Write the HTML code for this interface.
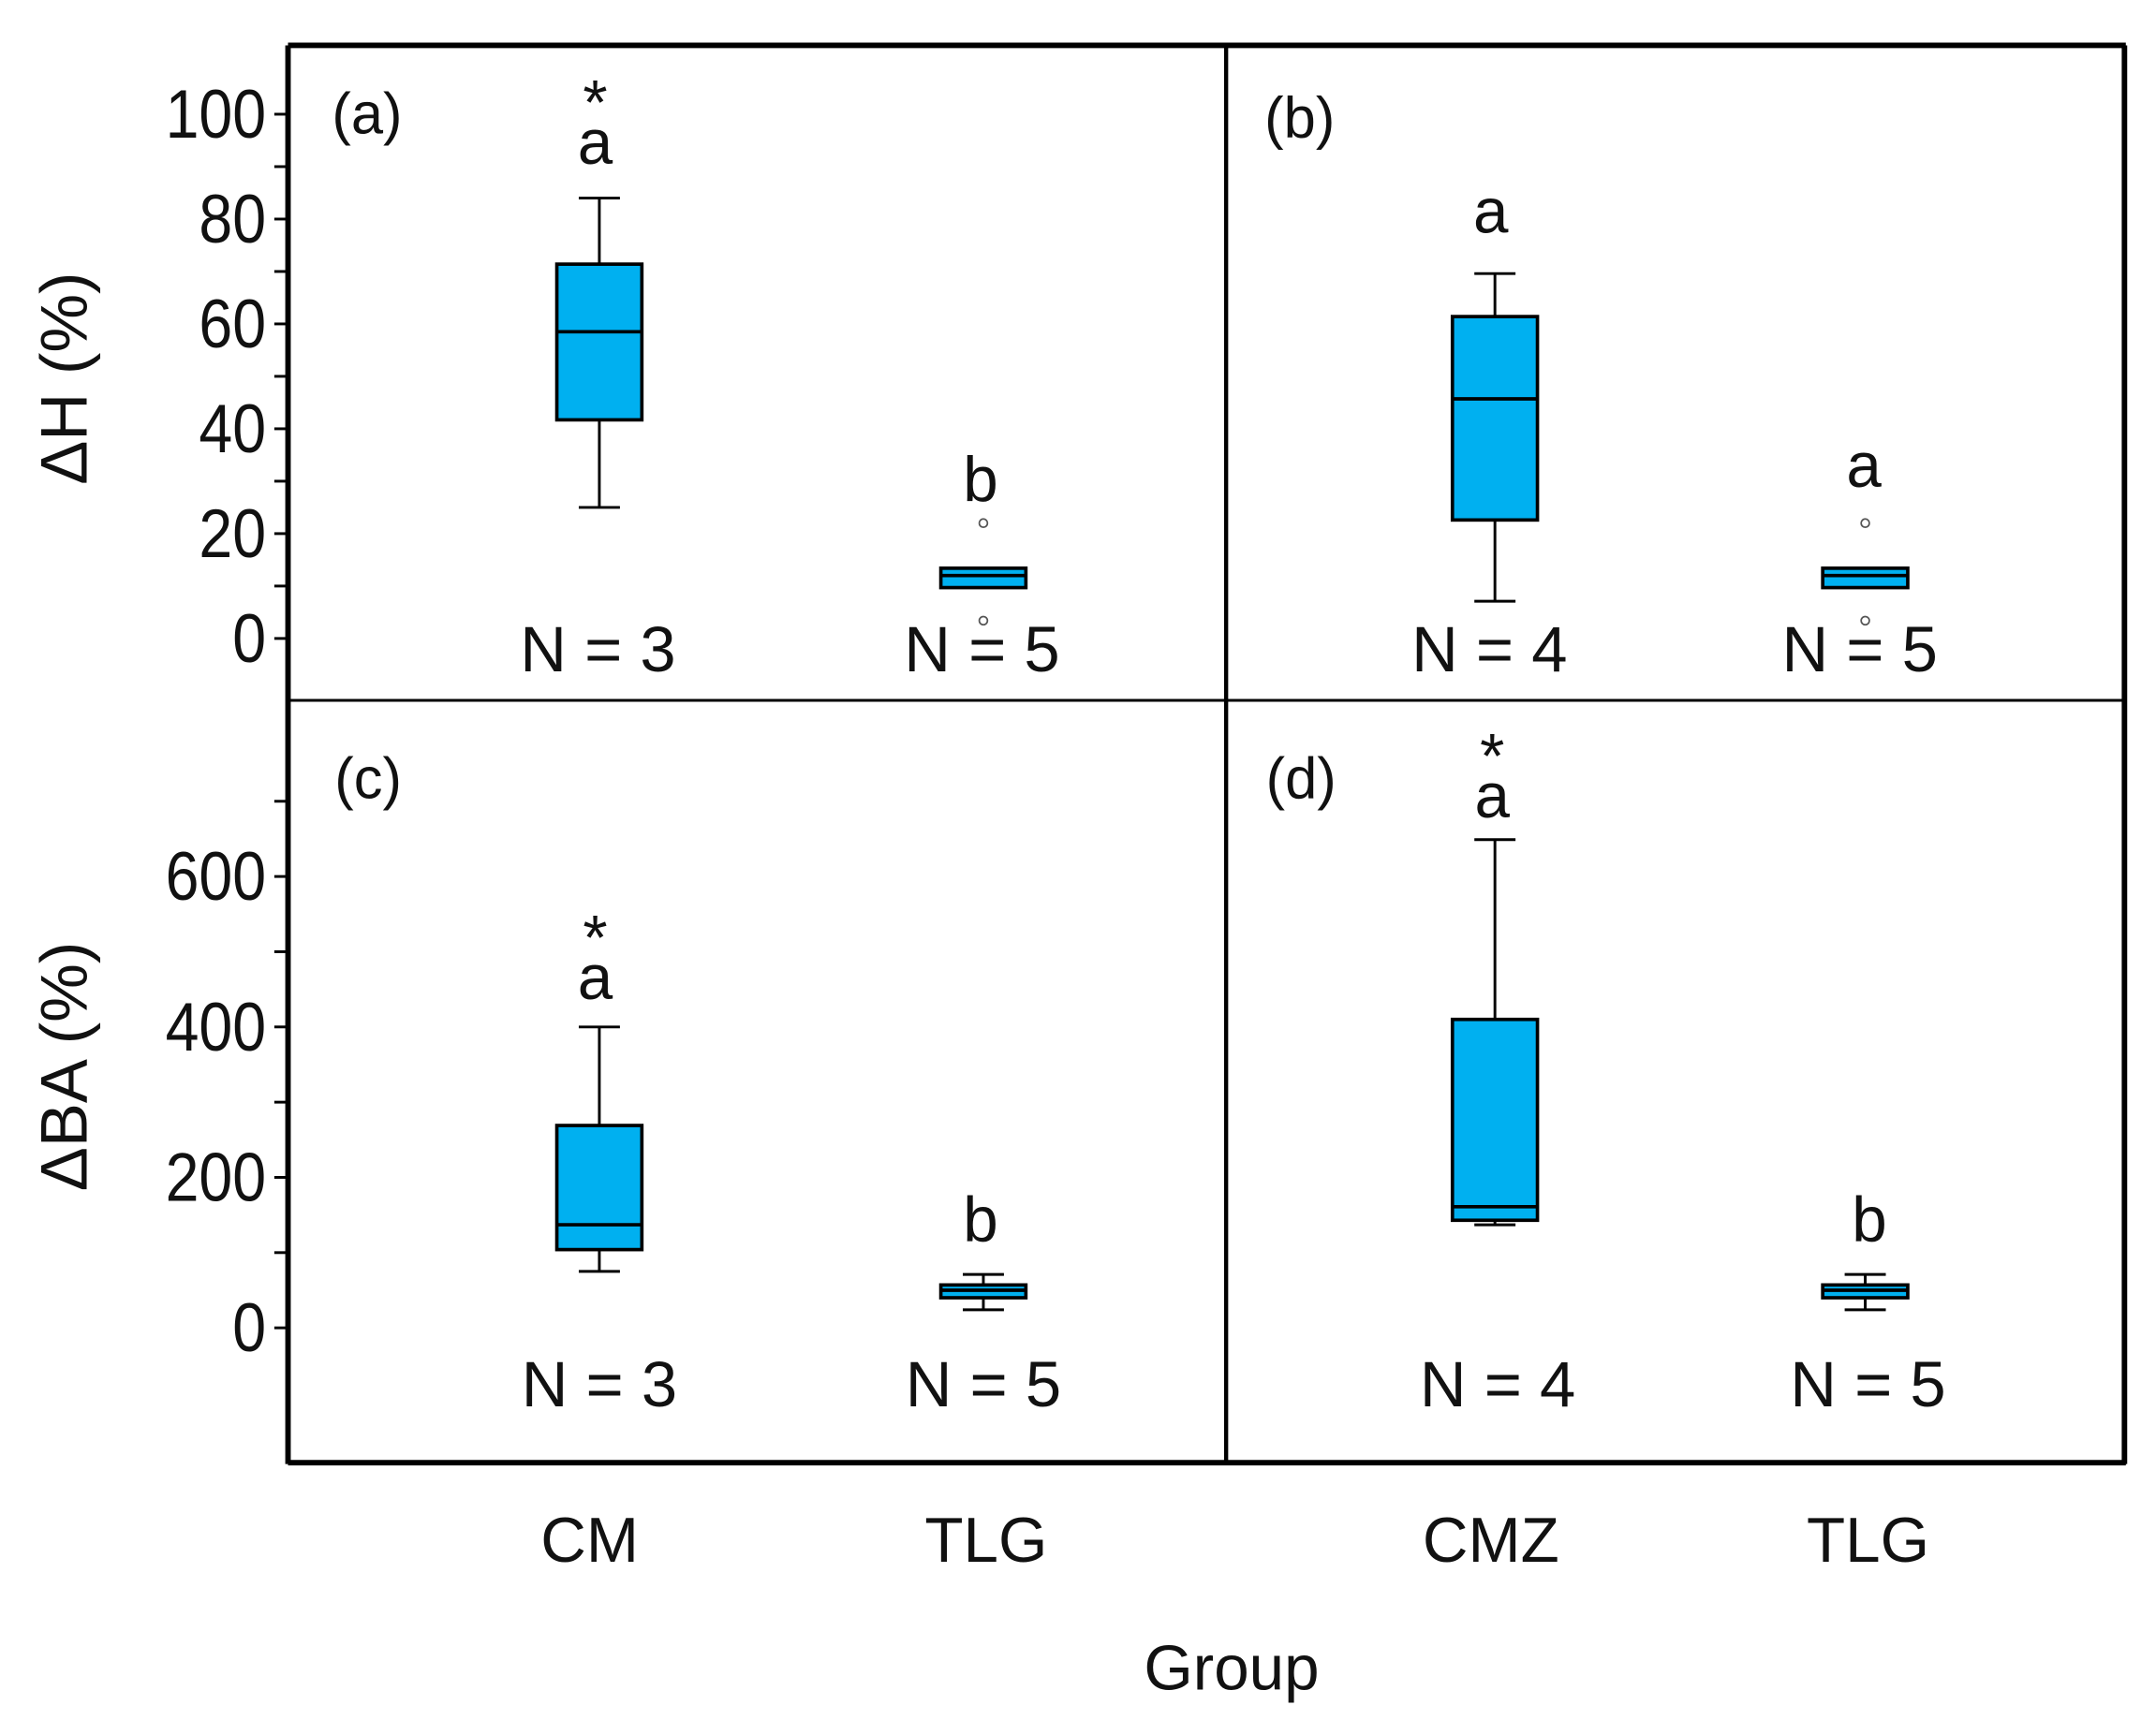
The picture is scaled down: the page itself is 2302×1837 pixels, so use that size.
<!DOCTYPE html>
<html><head><meta charset="utf-8">
<style>
html,body{margin:0;padding:0;background:#fff;}
svg{display:block;}
text{font-family:"Liberation Sans",Arial,sans-serif;fill:#111;}
</style></head>
<body>
<svg id="chart" width="2302" height="1837" viewBox="-2 0 1572 1250" preserveAspectRatio="none" xmlns="http://www.w3.org/2000/svg">
<g id="frame">
  <line x1="208" y1="33" x2="1548" y2="33" stroke="#000" stroke-width="4"/>
  <line x1="208" y1="33" x2="208" y2="1064" stroke="#000" stroke-width="4"/>
  <line x1="208" y1="1063" x2="1548" y2="1063" stroke="#000" stroke-width="4"/>
  <line x1="1547" y1="33" x2="1547" y2="1064" stroke="#000" stroke-width="4"/>
  <line x1="892" y1="33" x2="892" y2="1064" stroke="#000" stroke-width="3"/>
  <line x1="208" y1="509" x2="1548" y2="509" stroke="#000" stroke-width="2"/>
</g>
<g id="marks"></g>
<text x="240" y="97" font-size="42">(a)</text>
<text x="920" y="100" font-size="42">(b)</text>
<text x="242" y="580" font-size="42">(c)</text>
<text x="921" y="580" font-size="42">(d)</text>
<text transform="translate(61,275) rotate(-90)" text-anchor="middle" font-size="48">ΔH (%)</text>
<text transform="translate(61,775) rotate(-90)" text-anchor="middle" font-size="48">ΔBA (%)</text>
<text x="428" y="1135" text-anchor="middle" font-size="46">CM</text>
<text x="717" y="1135" text-anchor="middle" font-size="46">TLG</text>
<text x="1085" y="1135" text-anchor="middle" font-size="46">CMZ</text>
<text x="1360" y="1135" text-anchor="middle" font-size="46">TLG</text>
<text x="896" y="1228" text-anchor="middle" font-size="46">Group</text>
</svg>
<script>
// data
const groupsLeft = ["CM","TLG"];
const groupsRight = ["CMZ","TLG"];
const dhTicks = [0,20,40,60,80,100];
const dbaTicks = [0,200,400,600];
// [whiskerLow, q1, median, q3, whiskerHigh]
const dhCM = [25,41.7,58.5,71.4,84];
const dhTLG = [9.7,9.7,12,13.4,13.4];
const dhTLGOut = [22,3.4];
const dhCMZ = [7.1,22.6,45.7,61.4,69.6];
const dbaCM = [75,104,137,269,400];
const dbaTLG = [24,40,50,57,71];
const dbaCMZ = [137,143,161,410,649];
const nLeft = [3,5];
const nRight = [4,5];
const letterA = ["a","b"], letterB = ["a","a"], letterC = ["a","b"], letterD = ["a","b"];

const NS="http://www.w3.org/2000/svg";
const g=document.getElementById('marks');
function el(tag,attrs,parent){const e=document.createElementNS(NS,tag);for(const k in attrs)e.setAttribute(k,attrs[k]);(parent||g).appendChild(e);return e;}
// axis functions
const yTop=v=>464-v*3.81;
const yBot=v=>965-v*0.5467;
const xLeft=i=>[435,715][i];
const xRight=i=>[1088,1358][i];

function axis(ticks,scale,minorStep,maxV,name){
  for(let v=0;v<=maxV;v+=minorStep){
    const t=el('line',{x1:198,x2:208,y1:scale(v),y2:scale(v),stroke:'#000','stroke-width':2});
    
    
  }
  ticks.forEach(v=>{
    const t=el('text',{transform:'translate(192,'+(scale(v)+17)+') scale(0.88,1)','text-anchor':'end','font-size':50});
    t.textContent=v;
    
    
  });
}
axis(dhTicks,yTop,10,100,'y-axis-dh');
axis(dbaTicks,yBot,100,700,'y-axis-dba');

function box(cx,d,scale,name){
  const grp=el('g',{});
  
  
  const w=31,cap=15;
  el('line',{x1:cx,x2:cx,y1:scale(d[4]),y2:scale(d[0]),stroke:'#000','stroke-width':2},grp);
  el('line',{x1:cx-cap,x2:cx+cap,y1:scale(d[4]),y2:scale(d[4]),stroke:'#000','stroke-width':2},grp);
  el('line',{x1:cx-cap,x2:cx+cap,y1:scale(d[0]),y2:scale(d[0]),stroke:'#000','stroke-width':2},grp);
  el('rect',{x:cx-w,y:scale(d[3]),width:2*w,height:Math.max(1,scale(d[1])-scale(d[3])),fill:'#00b0f0',stroke:'#000','stroke-width':2.5},grp);
  el('line',{x1:cx-w,x2:cx+w,y1:scale(d[2]),y2:scale(d[2]),stroke:'#000','stroke-width':2.5},grp);
}
function outliers(cx,vals,scale,name){
  vals.forEach(v=>{
    const c=el('circle',{cx:cx,cy:scale(v),r:3,fill:'none',stroke:'#555','stroke-width':1.2});
    
    
  });
}
box(xLeft(0),dhCM,yTop,'box-a-cm');
box(xLeft(1),dhTLG,yTop,'box-a-tlg');
outliers(xLeft(1),dhTLGOut,yTop,'outlier-a-tlg');
box(xRight(0),dhCMZ,yTop,'box-b-cmz');
box(xRight(1),dhTLG,yTop,'box-b-tlg');
outliers(xRight(1),dhTLGOut,yTop,'outlier-b-tlg');
box(xLeft(0),dbaCM,yBot,'box-c-cm');
box(xLeft(1),dbaTLG,yBot,'box-c-tlg');
box(xRight(0),dbaCMZ,yBot,'box-d-cmz');
box(xRight(1),dbaTLG,yBot,'box-d-tlg');

function txt(x,y,s,fs,name){
  const t=el('text',{x:x,y:y,'text-anchor':'middle','font-size':fs});
  t.textContent=s;
  
  
}
// letters
txt(432,119,letterA[0],46,'letter-a-cm'); txt(432,90,'*',46,'star-a-cm');
txt(713,364,letterA[1],46,'letter-a-tlg');
txt(1085,169,letterB[0],46,'letter-b-cmz');
txt(1357,354,letterB[1],46,'letter-b-tlg');
txt(432,726,letterC[0],46,'letter-c-cm'); txt(432,697,'*',46,'star-c-cm');
txt(713,902,letterC[1],46,'letter-c-tlg');
txt(1086,594,letterD[0],46,'letter-d-cmz'); txt(1086,565,'*',46,'star-d-cmz');
txt(1361,902,letterD[1],46,'letter-d-tlg');
// N labels
nLeft.forEach((n,i)=>{txt(xLeft(i)-1,488,'N = '+n,47,'n-label-a'); txt(xLeft(i),1022,'N = '+n,47,'n-label-c');});
nRight.forEach((n,i)=>{txt(xRight(i)-4,488,'N = '+n,47,'n-label-b'); txt(xRight(i)+2,1022,'N = '+n,47,'n-label-d');});
</script>
</body></html>
